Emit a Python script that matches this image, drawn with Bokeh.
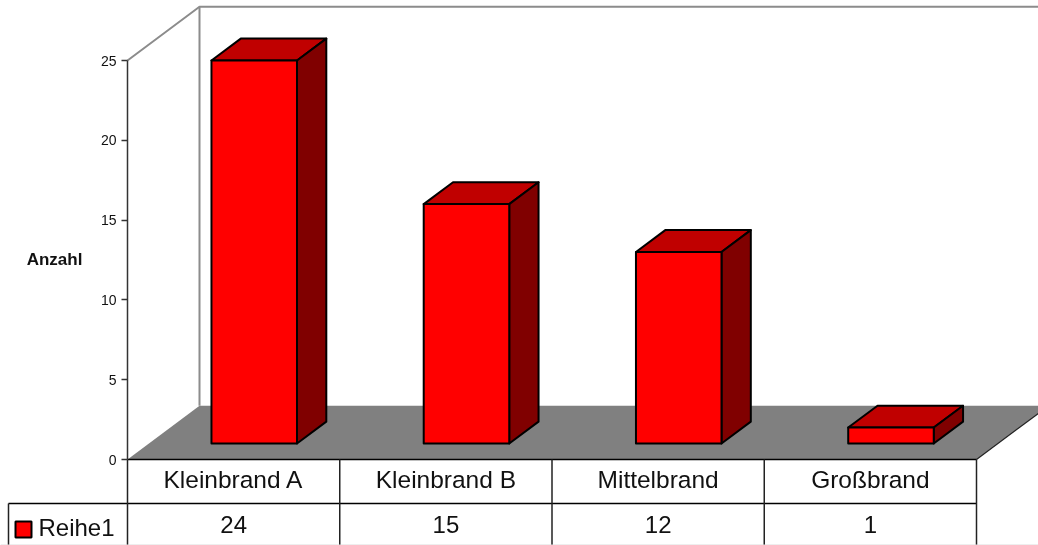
from bokeh.plotting import figure
from bokeh.models import LinearAxis, FixedTicker, Range1d
from bokeh.core.properties import value
from bokeh.embed import file_html
from bokeh.resources import INLINE

categories = ["Kleinbrand A", "Kleinbrand B", "Mittelbrand", "Großbrand"]
values = [24, 15, 12, 1]
y_ticks = [0, 5, 10, 15, 20, 25]
series_name = "Reihe1"
y_title = "Anzahl"

W, H = 1038, 545
PX_X, PX_Y = 212.25, 15.96      # pixels per category / per value unit
DX, DY = 72 / PX_X, 53.7 / PX_Y   # oblique offset of the full chart depth
n = len(categories)
ROW = 44 / PX_Y
LEG_L = -119 / PX_X
FONT = value("Liberation Sans")

p = figure(width=W, height=H, output_backend="svg", toolbar_location=None,
           x_range=Range1d(-127 / PX_X, (W - 127) / PX_X),
           y_range=Range1d(-(H - 459) / PX_Y, 459 / PX_Y),
           x_axis_location=None, y_axis_location=None, min_border=0)
p.outline_line_color = None
p.grid.visible = False
p.styles = {"position": "fixed", "left": "0", "top": "0"}

def pt(x, y, d):
    return x + d * DX, y + d * DY

def poly(points, color, lw=2, line="black"):
    xs, ys = zip(*points)
    p.patch(list(xs), list(ys), fill_color=color, line_color=line, line_width=lw, line_join="round")

def line(points, color="black", lw=1.5):
    xs, ys = zip(*points)
    p.line(list(xs), list(ys), line_color=color, line_width=lw)

top = y_ticks[-1]
# floor and walls
poly([pt(0, 0, 0), pt(n, 0, 0), pt(n, 0, 1), pt(0, 0, 1)], "#808080", lw=0, line=None)
line([pt(n, 0, 0), pt(n, 0, 1)], "#222222", 1.2)
line([pt(0, top, 0), pt(0, top, 1), pt(n, top, 1)], "#8c8c8c", 2)
line([pt(0, 0, 1), pt(0, top, 1)], "#8c8c8c", 2)

# bars
BW, D0, D1, SHIFT = 0.403, 0.298, 0.705, -0.004
for i, v in enumerate(values):
    l, r = i + 0.5 + SHIFT - BW / 2, i + 0.5 + SHIFT + BW / 2
    poly([pt(l, v, D0), pt(r, v, D0), pt(r, v, D1), pt(l, v, D1)], "#C00000")
    poly([pt(r, 0, D0), pt(r, 0, D1), pt(r, v, D1), pt(r, v, D0)], "#800000")
    poly([pt(l, 0, D0), pt(r, 0, D0), pt(r, v, D0), pt(l, v, D0)], "#FF0000")

# value axis
ax = LinearAxis(ticker=FixedTicker(ticks=y_ticks), fixed_location=0, bounds=(0, top))
ax.axis_line_color = "#333333"
ax.axis_line_width = 1.5
ax.major_tick_line_color = "#333333"
ax.major_tick_line_width = 1.5
ax.major_tick_in = 0
ax.major_tick_out = 6
ax.minor_tick_line_color = None
ax.major_label_standoff = 5
ax.major_label_text_font = "Liberation Sans"
ax.major_label_text_font_size = "14px"
ax.major_label_text_color = "#111111"
p.add_layout(ax, "left")

# axis title
p.text([-73 / PX_X], [(459 - 259) / PX_Y], text=[y_title], text_font=FONT, text_font_size="17px",
       text_font_style="bold", text_align="center", text_baseline="middle", text_color="#111111")

# data table
bottom = -2 * ROW + 0.02
p.segment([0, LEG_L], [0, -ROW], [n, n], [0, -ROW], line_color="black", line_width=1.5)
p.segment([LEG_L], [-ROW], [LEG_L], [bottom], line_color="#222222", line_width=1.5)
p.segment(list(range(n + 1)), [0] * (n + 1), list(range(n + 1)), [bottom] * (n + 1),
          line_color="#222222", line_width=1.5)
p.segment([-127 / PX_X], [-85.5 / PX_Y], [W / PX_X], [-85.5 / PX_Y], line_color="#dddddd", line_width=1)
cx = [i + 0.5 for i in range(n)]
p.text(cx, [-(479 - 459) / PX_Y] * n, text=categories, text_font=FONT, text_font_size="24.5px",
       text_align="center", text_baseline="middle", text_color="#111111")
p.text(cx, [-(524 - 459) / PX_Y] * n, text=[str(v) for v in values], text_font=FONT, text_font_size="24px",
       text_align="center", text_baseline="middle", text_color="#111111")

# legend key
p.rect([-104 / PX_X], [-(529 - 459) / PX_Y], width=16 / PX_X, height=16 / PX_Y,
       fill_color="#FF0000", line_color="black", line_width=2)
p.text([-89 / PX_X], [-(527 - 459) / PX_Y], text=[series_name], text_font=FONT, text_font_size="24px",
       text_align="left", text_baseline="middle", text_color="#111111")

open("out.html", "w").write(file_html(p, INLINE))
